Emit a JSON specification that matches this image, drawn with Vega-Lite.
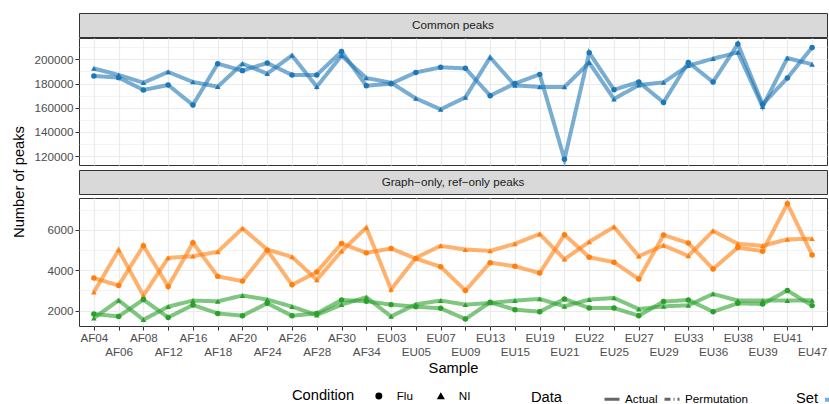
{
  "$schema": "https://vega.github.io/schema/vega-lite/v6.json",
  "padding": {"left": 11, "top": 12, "right": 0, "bottom": 0},
  "background": "white",
  "datasets": {
    "peaks": [
      {"sample":"AF04","set":"Common","condition":"Flu","peaks":186300,"data":"Actual"},
      {"sample":"AF06","set":"Common","condition":"Flu","peaks":184900,"data":"Actual"},
      {"sample":"AF08","set":"Common","condition":"Flu","peaks":174700,"data":"Actual"},
      {"sample":"AF12","set":"Common","condition":"Flu","peaks":178800,"data":"Actual"},
      {"sample":"AF16","set":"Common","condition":"Flu","peaks":162300,"data":"Actual"},
      {"sample":"AF18","set":"Common","condition":"Flu","peaks":196400,"data":"Actual"},
      {"sample":"AF20","set":"Common","condition":"Flu","peaks":190700,"data":"Actual"},
      {"sample":"AF24","set":"Common","condition":"Flu","peaks":197000,"data":"Actual"},
      {"sample":"AF26","set":"Common","condition":"Flu","peaks":187100,"data":"Actual"},
      {"sample":"AF28","set":"Common","condition":"Flu","peaks":187100,"data":"Actual"},
      {"sample":"AF30","set":"Common","condition":"Flu","peaks":206600,"data":"Actual"},
      {"sample":"AF34","set":"Common","condition":"Flu","peaks":178200,"data":"Actual"},
      {"sample":"EU03","set":"Common","condition":"Flu","peaks":179900,"data":"Actual"},
      {"sample":"EU05","set":"Common","condition":"Flu","peaks":189200,"data":"Actual"},
      {"sample":"EU07","set":"Common","condition":"Flu","peaks":193400,"data":"Actual"},
      {"sample":"EU09","set":"Common","condition":"Flu","peaks":192600,"data":"Actual"},
      {"sample":"EU13","set":"Common","condition":"Flu","peaks":170000,"data":"Actual"},
      {"sample":"EU15","set":"Common","condition":"Flu","peaks":180000,"data":"Actual"},
      {"sample":"EU19","set":"Common","condition":"Flu","peaks":187600,"data":"Actual"},
      {"sample":"EU21","set":"Common","condition":"Flu","peaks":117300,"data":"Actual"},
      {"sample":"EU22","set":"Common","condition":"Flu","peaks":205500,"data":"Actual"},
      {"sample":"EU25","set":"Common","condition":"Flu","peaks":174900,"data":"Actual"},
      {"sample":"EU27","set":"Common","condition":"Flu","peaks":181300,"data":"Actual"},
      {"sample":"EU29","set":"Common","condition":"Flu","peaks":164400,"data":"Actual"},
      {"sample":"EU33","set":"Common","condition":"Flu","peaks":197500,"data":"Actual"},
      {"sample":"EU36","set":"Common","condition":"Flu","peaks":181300,"data":"Actual"},
      {"sample":"EU38","set":"Common","condition":"Flu","peaks":212700,"data":"Actual"},
      {"sample":"EU39","set":"Common","condition":"Flu","peaks":162800,"data":"Actual"},
      {"sample":"EU41","set":"Common","condition":"Flu","peaks":184600,"data":"Actual"},
      {"sample":"EU47","set":"Common","condition":"Flu","peaks":209900,"data":"Actual"},
      {"sample":"AF04","set":"Common","condition":"NI","peaks":192500,"data":"Actual"},
      {"sample":"AF06","set":"Common","condition":"NI","peaks":187100,"data":"Actual"},
      {"sample":"AF08","set":"Common","condition":"NI","peaks":180700,"data":"Actual"},
      {"sample":"AF12","set":"Common","condition":"NI","peaks":189600,"data":"Actual"},
      {"sample":"AF16","set":"Common","condition":"NI","peaks":181300,"data":"Actual"},
      {"sample":"AF18","set":"Common","condition":"NI","peaks":177400,"data":"Actual"},
      {"sample":"AF20","set":"Common","condition":"NI","peaks":196400,"data":"Actual"},
      {"sample":"AF24","set":"Common","condition":"NI","peaks":188200,"data":"Actual"},
      {"sample":"AF26","set":"Common","condition":"NI","peaks":203300,"data":"Actual"},
      {"sample":"AF28","set":"Common","condition":"NI","peaks":177400,"data":"Actual"},
      {"sample":"AF30","set":"Common","condition":"NI","peaks":203100,"data":"Actual"},
      {"sample":"AF34","set":"Common","condition":"NI","peaks":184600,"data":"Actual"},
      {"sample":"EU03","set":"Common","condition":"NI","peaks":180700,"data":"Actual"},
      {"sample":"EU05","set":"Common","condition":"NI","peaks":167700,"data":"Actual"},
      {"sample":"EU07","set":"Common","condition":"NI","peaks":158650,"data":"Actual"},
      {"sample":"EU09","set":"Common","condition":"NI","peaks":168600,"data":"Actual"},
      {"sample":"EU13","set":"Common","condition":"NI","peaks":201650,"data":"Actual"},
      {"sample":"EU15","set":"Common","condition":"NI","peaks":178500,"data":"Actual"},
      {"sample":"EU19","set":"Common","condition":"NI","peaks":177200,"data":"Actual"},
      {"sample":"EU21","set":"Common","condition":"NI","peaks":177200,"data":"Actual"},
      {"sample":"EU22","set":"Common","condition":"NI","peaks":197300,"data":"Actual"},
      {"sample":"EU25","set":"Common","condition":"NI","peaks":167200,"data":"Actual"},
      {"sample":"EU27","set":"Common","condition":"NI","peaks":178800,"data":"Actual"},
      {"sample":"EU29","set":"Common","condition":"NI","peaks":181000,"data":"Actual"},
      {"sample":"EU33","set":"Common","condition":"NI","peaks":194800,"data":"Actual"},
      {"sample":"EU36","set":"Common","condition":"NI","peaks":200600,"data":"Actual"},
      {"sample":"EU38","set":"Common","condition":"NI","peaks":205800,"data":"Actual"},
      {"sample":"EU39","set":"Common","condition":"NI","peaks":160900,"data":"Actual"},
      {"sample":"EU41","set":"Common","condition":"NI","peaks":201100,"data":"Actual"},
      {"sample":"EU47","set":"Common","condition":"NI","peaks":195900,"data":"Actual"},
      {"sample":"AF04","set":"Graph-only","condition":"Flu","peaks":3615,"data":"Actual"},
      {"sample":"AF06","set":"Graph-only","condition":"Flu","peaks":3250,"data":"Actual"},
      {"sample":"AF08","set":"Graph-only","condition":"Flu","peaks":5215,"data":"Actual"},
      {"sample":"AF12","set":"Graph-only","condition":"Flu","peaks":3200,"data":"Actual"},
      {"sample":"AF16","set":"Graph-only","condition":"Flu","peaks":5365,"data":"Actual"},
      {"sample":"AF18","set":"Graph-only","condition":"Flu","peaks":3700,"data":"Actual"},
      {"sample":"AF20","set":"Graph-only","condition":"Flu","peaks":3465,"data":"Actual"},
      {"sample":"AF24","set":"Graph-only","condition":"Flu","peaks":5000,"data":"Actual"},
      {"sample":"AF26","set":"Graph-only","condition":"Flu","peaks":3280,"data":"Actual"},
      {"sample":"AF28","set":"Graph-only","condition":"Flu","peaks":3915,"data":"Actual"},
      {"sample":"AF30","set":"Graph-only","condition":"Flu","peaks":5330,"data":"Actual"},
      {"sample":"AF34","set":"Graph-only","condition":"Flu","peaks":4865,"data":"Actual"},
      {"sample":"EU03","set":"Graph-only","condition":"Flu","peaks":5080,"data":"Actual"},
      {"sample":"EU05","set":"Graph-only","condition":"Flu","peaks":4580,"data":"Actual"},
      {"sample":"EU07","set":"Graph-only","condition":"Flu","peaks":4180,"data":"Actual"},
      {"sample":"EU09","set":"Graph-only","condition":"Flu","peaks":3000,"data":"Actual"},
      {"sample":"EU13","set":"Graph-only","condition":"Flu","peaks":4380,"data":"Actual"},
      {"sample":"EU15","set":"Graph-only","condition":"Flu","peaks":4200,"data":"Actual"},
      {"sample":"EU19","set":"Graph-only","condition":"Flu","peaks":3865,"data":"Actual"},
      {"sample":"EU21","set":"Graph-only","condition":"Flu","peaks":5765,"data":"Actual"},
      {"sample":"EU22","set":"Graph-only","condition":"Flu","peaks":4650,"data":"Actual"},
      {"sample":"EU25","set":"Graph-only","condition":"Flu","peaks":4400,"data":"Actual"},
      {"sample":"EU27","set":"Graph-only","condition":"Flu","peaks":3565,"data":"Actual"},
      {"sample":"EU29","set":"Graph-only","condition":"Flu","peaks":5750,"data":"Actual"},
      {"sample":"EU33","set":"Graph-only","condition":"Flu","peaks":5350,"data":"Actual"},
      {"sample":"EU36","set":"Graph-only","condition":"Flu","peaks":4065,"data":"Actual"},
      {"sample":"EU38","set":"Graph-only","condition":"Flu","peaks":5130,"data":"Actual"},
      {"sample":"EU39","set":"Graph-only","condition":"Flu","peaks":4950,"data":"Actual"},
      {"sample":"EU41","set":"Graph-only","condition":"Flu","peaks":7300,"data":"Actual"},
      {"sample":"EU47","set":"Graph-only","condition":"Flu","peaks":4765,"data":"Actual"},
      {"sample":"AF04","set":"Graph-only","condition":"NI","peaks":2915,"data":"Actual"},
      {"sample":"AF06","set":"Graph-only","condition":"NI","peaks":5000,"data":"Actual"},
      {"sample":"AF08","set":"Graph-only","condition":"NI","peaks":2750,"data":"Actual"},
      {"sample":"AF12","set":"Graph-only","condition":"NI","peaks":4615,"data":"Actual"},
      {"sample":"AF16","set":"Graph-only","condition":"NI","peaks":4700,"data":"Actual"},
      {"sample":"AF18","set":"Graph-only","condition":"NI","peaks":4915,"data":"Actual"},
      {"sample":"AF20","set":"Graph-only","condition":"NI","peaks":6080,"data":"Actual"},
      {"sample":"AF24","set":"Graph-only","condition":"NI","peaks":5030,"data":"Actual"},
      {"sample":"AF26","set":"Graph-only","condition":"NI","peaks":4665,"data":"Actual"},
      {"sample":"AF28","set":"Graph-only","condition":"NI","peaks":3530,"data":"Actual"},
      {"sample":"AF30","set":"Graph-only","condition":"NI","peaks":4950,"data":"Actual"},
      {"sample":"AF34","set":"Graph-only","condition":"NI","peaks":6115,"data":"Actual"},
      {"sample":"EU03","set":"Graph-only","condition":"NI","peaks":3050,"data":"Actual"},
      {"sample":"EU05","set":"Graph-only","condition":"NI","peaks":4620,"data":"Actual"},
      {"sample":"EU07","set":"Graph-only","condition":"NI","peaks":5215,"data":"Actual"},
      {"sample":"EU09","set":"Graph-only","condition":"NI","peaks":5030,"data":"Actual"},
      {"sample":"EU13","set":"Graph-only","condition":"NI","peaks":4965,"data":"Actual"},
      {"sample":"EU15","set":"Graph-only","condition":"NI","peaks":5315,"data":"Actual"},
      {"sample":"EU19","set":"Graph-only","condition":"NI","peaks":5800,"data":"Actual"},
      {"sample":"EU21","set":"Graph-only","condition":"NI","peaks":4550,"data":"Actual"},
      {"sample":"EU22","set":"Graph-only","condition":"NI","peaks":5415,"data":"Actual"},
      {"sample":"EU25","set":"Graph-only","condition":"NI","peaks":6150,"data":"Actual"},
      {"sample":"EU27","set":"Graph-only","condition":"NI","peaks":4700,"data":"Actual"},
      {"sample":"EU29","set":"Graph-only","condition":"NI","peaks":5235,"data":"Actual"},
      {"sample":"EU33","set":"Graph-only","condition":"NI","peaks":4715,"data":"Actual"},
      {"sample":"EU36","set":"Graph-only","condition":"NI","peaks":5950,"data":"Actual"},
      {"sample":"EU38","set":"Graph-only","condition":"NI","peaks":5315,"data":"Actual"},
      {"sample":"EU39","set":"Graph-only","condition":"NI","peaks":5215,"data":"Actual"},
      {"sample":"EU41","set":"Graph-only","condition":"NI","peaks":5535,"data":"Actual"},
      {"sample":"EU47","set":"Graph-only","condition":"NI","peaks":5565,"data":"Actual"},
      {"sample":"AF04","set":"Ref-only","condition":"Flu","peaks":1835,"data":"Actual"},
      {"sample":"AF06","set":"Ref-only","condition":"Flu","peaks":1715,"data":"Actual"},
      {"sample":"AF08","set":"Ref-only","condition":"Flu","peaks":2550,"data":"Actual"},
      {"sample":"AF12","set":"Ref-only","condition":"Flu","peaks":1665,"data":"Actual"},
      {"sample":"AF16","set":"Ref-only","condition":"Flu","peaks":2280,"data":"Actual"},
      {"sample":"AF18","set":"Ref-only","condition":"Flu","peaks":1865,"data":"Actual"},
      {"sample":"AF20","set":"Ref-only","condition":"Flu","peaks":1750,"data":"Actual"},
      {"sample":"AF24","set":"Ref-only","condition":"Flu","peaks":2365,"data":"Actual"},
      {"sample":"AF26","set":"Ref-only","condition":"Flu","peaks":1750,"data":"Actual"},
      {"sample":"AF28","set":"Ref-only","condition":"Flu","peaks":1865,"data":"Actual"},
      {"sample":"AF30","set":"Ref-only","condition":"Flu","peaks":2530,"data":"Actual"},
      {"sample":"AF34","set":"Ref-only","condition":"Flu","peaks":2465,"data":"Actual"},
      {"sample":"EU03","set":"Ref-only","condition":"Flu","peaks":2300,"data":"Actual"},
      {"sample":"EU05","set":"Ref-only","condition":"Flu","peaks":2200,"data":"Actual"},
      {"sample":"EU07","set":"Ref-only","condition":"Flu","peaks":2115,"data":"Actual"},
      {"sample":"EU09","set":"Ref-only","condition":"Flu","peaks":1585,"data":"Actual"},
      {"sample":"EU13","set":"Ref-only","condition":"Flu","peaks":2415,"data":"Actual"},
      {"sample":"EU15","set":"Ref-only","condition":"Flu","peaks":2050,"data":"Actual"},
      {"sample":"EU19","set":"Ref-only","condition":"Flu","peaks":1950,"data":"Actual"},
      {"sample":"EU21","set":"Ref-only","condition":"Flu","peaks":2580,"data":"Actual"},
      {"sample":"EU22","set":"Ref-only","condition":"Flu","peaks":2130,"data":"Actual"},
      {"sample":"EU25","set":"Ref-only","condition":"Flu","peaks":2130,"data":"Actual"},
      {"sample":"EU27","set":"Ref-only","condition":"Flu","peaks":1750,"data":"Actual"},
      {"sample":"EU29","set":"Ref-only","condition":"Flu","peaks":2450,"data":"Actual"},
      {"sample":"EU33","set":"Ref-only","condition":"Flu","peaks":2530,"data":"Actual"},
      {"sample":"EU36","set":"Ref-only","condition":"Flu","peaks":1950,"data":"Actual"},
      {"sample":"EU38","set":"Ref-only","condition":"Flu","peaks":2365,"data":"Actual"},
      {"sample":"EU39","set":"Ref-only","condition":"Flu","peaks":2330,"data":"Actual"},
      {"sample":"EU41","set":"Ref-only","condition":"Flu","peaks":3000,"data":"Actual"},
      {"sample":"EU47","set":"Ref-only","condition":"Flu","peaks":2250,"data":"Actual"},
      {"sample":"AF04","set":"Ref-only","condition":"NI","peaks":1630,"data":"Actual"},
      {"sample":"AF06","set":"Ref-only","condition":"NI","peaks":2515,"data":"Actual"},
      {"sample":"AF08","set":"Ref-only","condition":"NI","peaks":1550,"data":"Actual"},
      {"sample":"AF12","set":"Ref-only","condition":"NI","peaks":2200,"data":"Actual"},
      {"sample":"AF16","set":"Ref-only","condition":"NI","peaks":2500,"data":"Actual"},
      {"sample":"AF18","set":"Ref-only","condition":"NI","peaks":2465,"data":"Actual"},
      {"sample":"AF20","set":"Ref-only","condition":"NI","peaks":2750,"data":"Actual"},
      {"sample":"AF24","set":"Ref-only","condition":"NI","peaks":2550,"data":"Actual"},
      {"sample":"AF26","set":"Ref-only","condition":"NI","peaks":2200,"data":"Actual"},
      {"sample":"AF28","set":"Ref-only","condition":"NI","peaks":1785,"data":"Actual"},
      {"sample":"AF30","set":"Ref-only","condition":"NI","peaks":2300,"data":"Actual"},
      {"sample":"AF34","set":"Ref-only","condition":"NI","peaks":2665,"data":"Actual"},
      {"sample":"EU03","set":"Ref-only","condition":"NI","peaks":1715,"data":"Actual"},
      {"sample":"EU05","set":"Ref-only","condition":"NI","peaks":2315,"data":"Actual"},
      {"sample":"EU07","set":"Ref-only","condition":"NI","peaks":2500,"data":"Actual"},
      {"sample":"EU09","set":"Ref-only","condition":"NI","peaks":2300,"data":"Actual"},
      {"sample":"EU13","set":"Ref-only","condition":"NI","peaks":2380,"data":"Actual"},
      {"sample":"EU15","set":"Ref-only","condition":"NI","peaks":2500,"data":"Actual"},
      {"sample":"EU19","set":"Ref-only","condition":"NI","peaks":2580,"data":"Actual"},
      {"sample":"EU21","set":"Ref-only","condition":"NI","peaks":2215,"data":"Actual"},
      {"sample":"EU22","set":"Ref-only","condition":"NI","peaks":2550,"data":"Actual"},
      {"sample":"EU25","set":"Ref-only","condition":"NI","peaks":2630,"data":"Actual"},
      {"sample":"EU27","set":"Ref-only","condition":"NI","peaks":2080,"data":"Actual"},
      {"sample":"EU29","set":"Ref-only","condition":"NI","peaks":2215,"data":"Actual"},
      {"sample":"EU33","set":"Ref-only","condition":"NI","peaks":2265,"data":"Actual"},
      {"sample":"EU36","set":"Ref-only","condition":"NI","peaks":2830,"data":"Actual"},
      {"sample":"EU38","set":"Ref-only","condition":"NI","peaks":2500,"data":"Actual"},
      {"sample":"EU39","set":"Ref-only","condition":"NI","peaks":2500,"data":"Actual"},
      {"sample":"EU41","set":"Ref-only","condition":"NI","peaks":2500,"data":"Actual"},
      {"sample":"EU47","set":"Ref-only","condition":"NI","peaks":2515,"data":"Actual"}
    ]
  },
  "spacing": 6,
  "hconcat": [
    {
      "data": {"values": [{"label": "Number of peaks"}]},
      "width": 15,
      "height": 338,
      "view": {"stroke": null, "fill": null},
      "mark": {"type": "text", "angle": 270, "font": "Liberation Sans", "fontSize": 14.7, "color": "#000000", "align": "center", "baseline": "middle"},
      "encoding": {"text": {"field": "label", "type": "nominal"}}
    },
    {
      "spacing": 1,
      "resolve": {"scale": {"y": "independent"}},
      "vconcat": [
        {
          "spacing": -4,
          "vconcat": [
            {
              "data": {"values": [{"label": "Common peaks"}]},
              "width": 748,
              "height": 24,
              "view": {"fill": "#D9D9D9", "stroke": "#333333", "strokeWidth": 1},
              "mark": {"type": "text", "font": "Liberation Sans", "fontSize": 11.7, "color": "#1A1A1A"},
              "encoding": {"text": {"field": "label", "type": "nominal"}}
            },
            {
              "width": 748,
              "height": 127,
              "data": {"name": "peaks"},
              "transform": [{"filter": "datum.set == 'Common'"}],
              "encoding": {
                "x": {"field": "sample", "type": "nominal", "sort": null,
                      "scale": {"type": "point", "padding": 0.6},
                      "axis": {"labels": false, "ticks": false, "domain": false, "title": null, "grid": true}},
                "y": {"field": "peaks", "type": "quantitative",
                      "scale": {"domain": [112600, 217700], "nice": false, "zero": false},
                      "axis": {"title": null, "format": "d",
                               "values": [120000,130000,140000,150000,160000,170000,180000,190000,200000,210000],
                               "labelExpr": "datum.value % 20000 == 0 ? datum.label : ''",
                               "tickOpacity": {"condition": {"test": "datum.value % 20000 != 0", "value": 0}, "value": 1},
                               "gridWidth": {"condition": {"test": "datum.value % 20000 != 0", "value": 0.6}, "value": 1.2}}},
                "color": {"field": "set", "type": "nominal",
                          "scale": {"domain": ["Common", "Graph-only", "Ref-only"], "range": ["#1f77b4", "#ff7f0e", "#2ca02c"]},
                          "legend": {"title": "Set", "orient": "none", "legendX": 784, "legendY": 377, "direction": "horizontal", "titleOrient": "left", "symbolType": "stroke", "symbolStrokeWidth": 4, "symbolSize": 225, "titlePadding": 4}}
              },
              "layer": [
                {
                  "mark": {"type": "line", "strokeWidth": 4, "opacity": 0.6},
                  "encoding": {
                    "detail": {"field": "condition", "type": "nominal"},
                    "strokeDash": {"field": "data", "type": "nominal",
                                   "scale": {"domain": ["Actual", "Permutation"], "range": [[1, 0], [6, 3, 1, 3]]},
                                   "legend": {"title": "Data", "orient": "none", "legendX": 519, "legendY": 377, "direction": "horizontal", "titleOrient": "left", "symbolType": "stroke", "symbolStrokeColor": "black", "symbolStrokeWidth": 3, "symbolSize": 225, "titlePadding": 40, "labelOffset": 4, "columnPadding": 0}}
                  }
                },
                {
                  "mark": {"type": "point", "filled": true, "opacity": 1, "size": 30},
                  "encoding": {
                    "shape": {"field": "condition", "type": "nominal",
                              "scale": {"domain": ["Flu", "NI"], "range": ["circle", "triangle-up"]},
                              "legend": {"title": "Condition", "orient": "none", "legendX": 280, "legendY": 377, "direction": "horizontal", "titleOrient": "left", "symbolFillColor": "black", "symbolStrokeColor": "black", "symbolSize": 30, "titlePadding": 18, "labelOffset": 12, "columnPadding": 22}}
                  }
                }
              ]
            }
          ]
        },
        {
          "spacing": 0,
          "vconcat": [
            {
              "data": {"values": [{"label": "Graph\u2212only, ref\u2212only peaks"}]},
              "width": 748,
              "height": 24,
              "view": {"fill": "#D9D9D9", "stroke": "#333333", "strokeWidth": 1},
              "mark": {"type": "text", "font": "Liberation Sans", "fontSize": 11.7, "color": "#1A1A1A"},
              "encoding": {"text": {"field": "label", "type": "nominal"}}
            },
            {
              "width": 748,
              "height": 128,
              "data": {"name": "peaks"},
              "transform": [{"filter": "datum.set != 'Common'"}],
              "encoding": {
                "x": {"field": "sample", "type": "nominal", "sort": null,
                      "scale": {"type": "point", "padding": 0.6},
                      "axis": {"labels": true, "ticks": true, "domain": false, "grid": true, "labelAngle": 0,
                               "labelOverlap": false,
                               "labelPadding": {"condition": {"test": "indexof(['AF06','AF12','AF18','AF24','AF28','AF34','EU05','EU09','EU15','EU21','EU25','EU29','EU36','EU39','EU47'], datum.value) >= 0", "value": 16}, "value": 2},
                               "title": "Sample", "titlePadding": 3}},
                "y": {"field": "peaks", "type": "quantitative",
                      "scale": {"domain": [1240, 7585], "nice": false, "zero": false},
                      "axis": {"title": null,
                               "values": [2000, 3000, 4000, 5000, 6000, 7000],
                               "format": "d",
                               "labelExpr": "datum.value % 2000 == 0 ? datum.label : ''",
                               "tickOpacity": {"condition": {"test": "datum.value % 2000 != 0", "value": 0}, "value": 1},
                               "gridWidth": {"condition": {"test": "datum.value % 2000 != 0", "value": 0.6}, "value": 1.2}}},
                "color": {"field": "set", "type": "nominal",
                          "scale": {"domain": ["Common", "Graph-only", "Ref-only"], "range": ["#1f77b4", "#ff7f0e", "#2ca02c"]},
                          "legend": {"title": "Set", "orient": "none", "legendX": 784, "legendY": 377, "direction": "horizontal", "titleOrient": "left", "symbolType": "stroke", "symbolStrokeWidth": 4, "symbolSize": 225, "titlePadding": 4}}
              },
              "layer": [
                {
                  "mark": {"type": "line", "strokeWidth": 4, "opacity": 0.6},
                  "encoding": {
                    "detail": {"field": "condition", "type": "nominal"},
                    "strokeDash": {"field": "data", "type": "nominal",
                                   "scale": {"domain": ["Actual", "Permutation"], "range": [[1, 0], [6, 3, 1, 3]]},
                                   "legend": {"title": "Data", "orient": "none", "legendX": 519, "legendY": 377, "direction": "horizontal", "titleOrient": "left", "symbolType": "stroke", "symbolStrokeColor": "black", "symbolStrokeWidth": 3, "symbolSize": 225, "titlePadding": 40, "labelOffset": 4, "columnPadding": 0}}
                  }
                },
                {
                  "mark": {"type": "point", "filled": true, "opacity": 1, "size": 30},
                  "encoding": {
                    "shape": {"field": "condition", "type": "nominal",
                              "scale": {"domain": ["Flu", "NI"], "range": ["circle", "triangle-up"]},
                              "legend": {"title": "Condition", "orient": "none", "legendX": 280, "legendY": 377, "direction": "horizontal", "titleOrient": "left", "symbolFillColor": "black", "symbolStrokeColor": "black", "symbolSize": 30, "titlePadding": 18, "labelOffset": 12, "columnPadding": 22}}
                  }
                }
              ]
            }
          ]
        }
      ]
    }
  ],
  "config": {
    "font": "Liberation Sans",
    "view": {"stroke": "#333333", "strokeWidth": 1},
    "axis": {
      "labelFont": "Liberation Sans", "labelFontSize": 11.7, "labelColor": "#4D4D4D",
      "titleFont": "Liberation Sans", "titleFontSize": 14.7, "titleFontWeight": "normal", "titleColor": "#000000",
      "tickColor": "#333333", "tickSize": 4, "tickWidth": 1,
      "gridColor": "#EBEBEB", "gridWidth": 1.2, "domain": false, "labelPadding": 2
    },
    "legend": {
      "titleFont": "Liberation Sans", "titleFontSize": 14.7, "titleFontWeight": "normal", "titleColor": "#000000",
      "labelFont": "Liberation Sans", "labelFontSize": 11.7, "labelColor": "#000000"
    }
  }
}
